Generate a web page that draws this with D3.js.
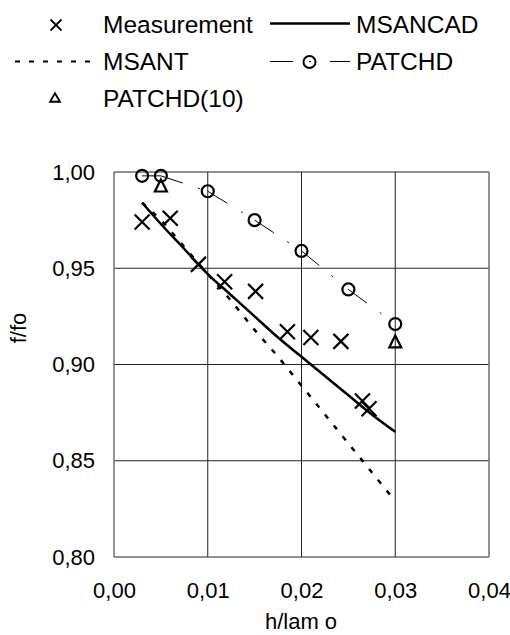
<!DOCTYPE html>
<html>
<head>
<meta charset="utf-8">
<script src="https://cdn.jsdelivr.net/npm/d3@7"></script>
<style>
  body { margin: 0; background: #fff; }
  svg { display: block; font-family: "Liberation Sans", Arial, sans-serif; }
</style>
</head>
<body>
<svg id="chart"></svg>
<script>
const width = 510;
const height = 635;

// tick values
const xTicks = [0, 0.01, 0.02, 0.03, 0.04];
const yTicks = [0.8, 0.85, 0.9, 0.95, 1.0];

// Measurement (crosses)
const measX = [0.003, 0.006, 0.009, 0.0118, 0.0151, 0.0185, 0.021, 0.0242, 0.0265, 0.0272];
const measY = [0.974, 0.976, 0.952, 0.943, 0.938, 0.917, 0.914, 0.912, 0.881, 0.877];

// MSANCAD (solid line)
const msancadX = [0.003, 0.005, 0.0075, 0.01, 0.0125, 0.015, 0.0175, 0.02, 0.0225, 0.025, 0.0275, 0.03];
const msancadY = [0.984, 0.973, 0.960, 0.947, 0.936, 0.925, 0.914, 0.904, 0.894, 0.884, 0.874, 0.865];

// MSANT (dashed line)
const msantX = [0.003, 0.005, 0.0075, 0.01, 0.0125, 0.015, 0.0175, 0.02, 0.0225, 0.025, 0.0275, 0.03];
const msantY = [0.984, 0.975, 0.961, 0.947, 0.933, 0.918, 0.904, 0.889, 0.874, 0.859, 0.844, 0.829];

// PATCHD (circles, dash-dot)
const patchdX = [0.003, 0.005, 0.01, 0.015, 0.02, 0.025, 0.03];
const patchdY = [0.998, 0.998, 0.990, 0.975, 0.959, 0.939, 0.921];

// PATCHD(10) (triangles)
const patchd10X = [0.005, 0.03];
const patchd10Y = [0.993, 0.912];

const comma = (v) => d3.format(".2f")(v).replace(".", ",");
const zip = (xs, ys) => xs.map((x, i) => [x, ys[i]]);

const xScale = d3.scaleLinear().domain([0, 0.04]).range([114, 489]);
const yScale = d3.scaleLinear().domain([0.8, 1.0]).range([557, 172]);

const svg = d3.select("#chart").attr("width", width).attr("height", height);

// grid
const grid = svg.append("g");
grid.selectAll(".hgrid")
  .data(yTicks)
  .enter()
  .append("line")
  .attr("x1", xScale(0))
  .attr("x2", xScale(0.04))
  .attr("y1", (d) => yScale(d))
  .attr("y2", (d) => yScale(d))
  .attr("stroke", "#222")
  .attr("stroke-width", 1);
grid.selectAll(".vgrid")
  .data(xTicks)
  .enter()
  .append("line")
  .attr("x1", (d) => xScale(d))
  .attr("x2", (d) => xScale(d))
  .attr("y1", yScale(0.8))
  .attr("y2", yScale(1.0))
  .attr("stroke", (d, i) => (i === 0 || i === xTicks.length - 1 ? "#777" : "#222"))
  .attr("stroke-width", (d, i) => (i === 0 || i === xTicks.length - 1 ? 1.6 : 1));

// axes
const yAxis = d3.axisLeft(yScale).tickValues(yTicks).tickFormat(comma).tickSize(0).tickPadding(19);
svg.append("g")
  .attr("transform", `translate(${xScale(0)},0)`)
  .call(yAxis)
  .call((g) => g.select(".domain").remove())
  .selectAll("text")
  .attr("font-size", 22)
  .attr("font-family", "Liberation Sans, Arial, sans-serif")
  .attr("fill", "#000");

const xAxis = d3.axisBottom(xScale).tickValues(xTicks).tickFormat(comma).tickSize(0).tickPadding(25);
svg.append("g")
  .attr("transform", `translate(0,${yScale(0.8)})`)
  .call(xAxis)
  .call((g) => g.select(".domain").remove())
  .selectAll("text")
  .attr("font-size", 22)
  .attr("font-family", "Liberation Sans, Arial, sans-serif")
  .attr("fill", "#000");

// axis titles
svg.append("text")
  .attr("x", 301)
  .attr("y", 629)
  .attr("text-anchor", "middle")
  .attr("font-size", 22)
  .text("h/lam o");
svg.append("text")
  .attr("transform", "translate(26,328) rotate(-90)")
  .attr("text-anchor", "middle")
  .attr("font-size", 22)
  .text("f/fo");

const line = d3.line().x((d) => xScale(d[0])).y((d) => yScale(d[1]));
const curve = d3.line().curve(d3.curveMonotoneX).x((d) => xScale(d[0])).y((d) => yScale(d[1]));

// MSANT dashed
svg.append("path")
  .attr("d", curve(zip(msantX, msantY)))
  .attr("fill", "none")
  .attr("stroke", "#000")
  .attr("stroke-width", 2.5)
  .attr("stroke-dasharray", "5,9");

// MSANCAD solid
svg.append("path")
  .attr("d", curve(zip(msancadX, msancadY)))
  .attr("fill", "none")
  .attr("stroke", "#000")
  .attr("stroke-width", 2.5);

// PATCHD dash-dot, pattern restarts at each point
svg.selectAll(".patchd-seg")
  .data(d3.pairs(zip(patchdX, patchdY)))
  .enter()
  .append("path")
  .attr("d", (d) => line(d))
  .attr("fill", "none")
  .attr("stroke", "#000")
  .attr("stroke-width", 1)
  .attr("stroke-dasharray", "23,16,2,19");

const crossPath = (s) => `M${-s},${-s}L${s},${s}M${-s},${s}L${s},${-s}`;
const triPath = (w, h) => `M0,${-h / 2}L${w / 2},${h / 2}L${-w / 2},${h / 2}Z`;

// markers
svg.selectAll(".meas")
  .data(zip(measX, measY))
  .enter()
  .append("path")
  .attr("transform", (d) => `translate(${xScale(d[0])},${yScale(d[1])})`)
  .attr("d", crossPath(7.5))
  .attr("stroke", "#000")
  .attr("stroke-width", 2.2)
  .attr("fill", "none");

svg.selectAll(".patchd")
  .data(zip(patchdX, patchdY))
  .enter()
  .append("circle")
  .attr("cx", (d) => xScale(d[0]))
  .attr("cy", (d) => yScale(d[1]))
  .attr("r", 6)
  .attr("stroke", "#000")
  .attr("stroke-width", 2.2)
  .attr("fill", "none");

svg.selectAll(".patchd10")
  .data(zip(patchd10X, patchd10Y))
  .enter()
  .append("path")
  .attr("transform", (d) => `translate(${xScale(d[0])},${yScale(d[1])})`)
  .attr("d", triPath(12, 12))
  .attr("stroke", "#000")
  .attr("stroke-width", 2.2)
  .attr("fill", "none");

// legend
const legend = svg.append("g").attr("font-size", 24.5).attr("fill", "#000");
legend.append("path")
  .attr("transform", "translate(56,25)")
  .attr("d", crossPath(5.5))
  .attr("stroke", "#000")
  .attr("stroke-width", 1.8);
legend.append("text").attr("x", 103).attr("y", 33).text("Measurement");

legend.append("line")
  .attr("x1", 270).attr("x2", 350).attr("y1", 23.5).attr("y2", 23.5)
  .attr("stroke", "#000").attr("stroke-width", 2.5);
legend.append("text").attr("x", 356).attr("y", 33).text("MSANCAD");

legend.append("line")
  .attr("x1", 15).attr("x2", 98).attr("y1", 61.5).attr("y2", 61.5)
  .attr("stroke", "#000").attr("stroke-width", 2.2)
  .attr("stroke-dasharray", "5,9");
legend.append("text").attr("x", 103).attr("y", 70).text("MSANT");

legend.append("line")
  .attr("x1", 270).attr("x2", 350).attr("y1", 61.5).attr("y2", 61.5)
  .attr("stroke", "#000").attr("stroke-width", 1)
  .attr("stroke-dasharray", "23,16,2,19");
legend.append("circle")
  .attr("cx", 309.5).attr("cy", 62).attr("r", 6)
  .attr("stroke", "#000").attr("stroke-width", 2).attr("fill", "none");
legend.append("text").attr("x", 356).attr("y", 70).text("PATCHD");

legend.append("path")
  .attr("transform", "translate(55,97.5)")
  .attr("d", triPath(10, 8.5))
  .attr("stroke", "#000")
  .attr("stroke-width", 1.8)
  .attr("fill", "none");
legend.append("text").attr("x", 103).attr("y", 107).text("PATCHD(10)");
</script>
</body>
</html>
